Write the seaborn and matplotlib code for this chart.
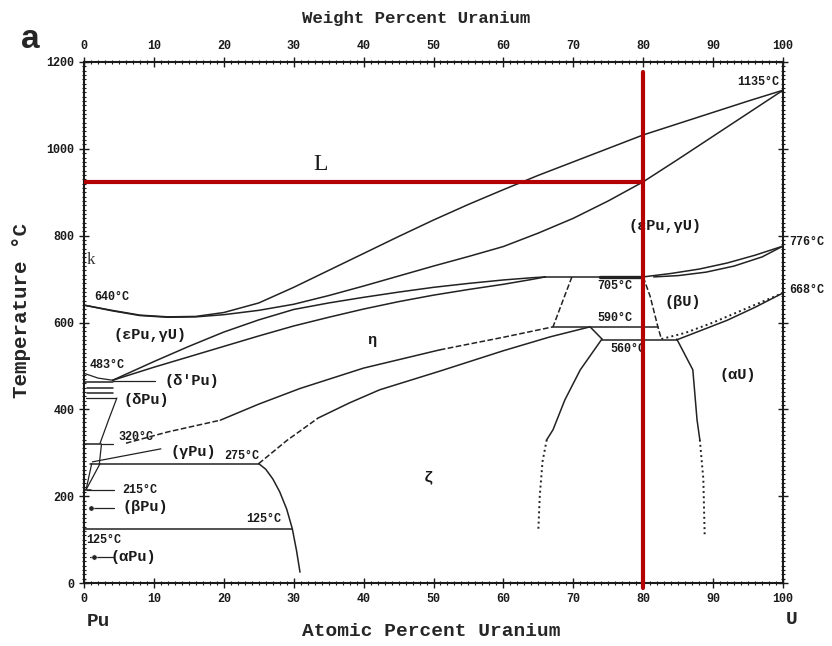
import matplotlib
matplotlib.use("Agg")
import matplotlib.pyplot as plt
import seaborn as sns
import pandas as pd
from matplotlib.ticker import MultipleLocator

# x = atomic percent uranium, t = temperature (°C)
liquidus_x = [0, 4, 8, 12, 16, 20, 25, 30, 35, 40, 45, 50, 55, 60, 65, 70, 75, 80, 85, 90, 95, 100]
liquidus_t = [640, 628, 617, 613, 614, 623, 645, 681, 720, 759, 798, 836, 872, 906, 939, 970, 1001, 1032, 1058, 1084, 1110, 1135]

solidus_x = [0, 4, 8, 12, 16, 20, 25, 30, 35, 40, 45, 50, 55, 60, 65, 70, 75, 80, 85, 90, 95, 100]
solidus_t = [640, 627, 616, 612, 613, 618, 628, 642, 662, 684, 707, 730, 752, 775, 806, 840, 880, 924, 976, 1029, 1082, 1135]

eps_upper_x = [4.1, 10, 15, 20, 25, 30, 35, 40, 45, 50, 55, 60, 64, 66]
eps_upper_t = [467, 510, 545, 578, 606, 630, 645, 658, 670, 681, 690, 698, 703, 705]

eta_upper_x = [4.1, 10, 15, 20, 25, 30, 35, 40, 45, 50, 55, 60, 64, 66]
eta_upper_t = [467, 497, 521, 545, 569, 592, 612, 631, 648, 663, 676, 688, 699, 705]

eps_bu_upper_x = [80, 84, 88, 92, 96, 100]
eps_bu_upper_t = [705, 713, 723, 737, 755, 776]
eps_bu_lower_x = [81.5, 85, 89, 93, 97, 100]
eps_bu_lower_t = [705, 708, 716, 730, 751, 776]

eta_lower_dash_x = [6, 12, 19.5]
eta_lower_dash_t = [322, 348, 375]
eta_lower_x = [19.5, 25, 30.9, 40, 50.9]
eta_lower_t = [375, 412, 448, 495, 537]
eta_lower_end_x = [50.9, 60, 67.1]
eta_lower_end_t = [537, 566, 590]

zeta_upper_dash_x = [25, 29, 33.5]
zeta_upper_dash_t = [275, 328, 380]
zeta_upper_x = [33.5, 38, 42.3, 50.9, 60, 66.7, 72.4, 74.1]
zeta_upper_t = [380, 415, 445, 488, 535, 567, 590, 562]

zeta_right_x = [74.1, 71, 68.8, 67.1, 66.2]
zeta_right_t = [562, 491, 422, 353, 330]
zeta_right_dot_x = [66.2, 65.6, 65.2, 65.0]
zeta_right_dot_t = [330, 280, 200, 122]

alpha_u_x = [84.8, 87.1, 87.7, 88.1]
alpha_u_t = [562, 491, 376, 330]
alpha_u_dot_x = [88.1, 88.6, 88.8]
alpha_u_dot_t = [330, 240, 106]

zeta_left_x = [25, 26, 27, 28, 29, 29.8, 30.4, 30.9]
zeta_left_t = [275, 262, 240, 210, 170, 125, 75, 25]

alpha_solvus_x = [84.8, 88, 92, 96, 100]
alpha_solvus_t = [560, 580, 605, 635, 668]
beta_solvus_x = [82.6, 86, 90, 95, 100]
beta_solvus_t = [562, 576, 600, 634, 668]

dash_left_x = [69.8, 68.5, 67.1]
dash_left_t = [705, 650, 590]
dash_right_x = [80, 81, 82.1, 82.6]
dash_right_t = [705, 660, 590, 562]

# horizontal invariant lines: (x start, x end, temperature)
iso_x0 = [66, 0, 67.1, 74.1, 0.8, 0, 0, 0.4, 0.4, 0]
iso_x1 = [80, 4.1, 82.1, 84.8, 25, 29.8, 2.5, 4.2, 4.2, 1.0]
iso_t = [705, 463, 590, 560, 275, 125, 320, 450, 437, 215]
thick_x = [73.8, 79.5]
thick_t = [705, 705]

# small Pu-rich boundaries
pu_lines = [
    ([0, 2, 4.1], [483, 472, 467]),
    ([4.7, 3.5, 2.3], [426, 375, 322]),
    ([2.5, 2.2], [320, 275]),
    ([0.3, 1.1], [215, 275]),
    ([0.3, 2.3], [215, 275]),
    ([1.2, 11], [279, 309]),
]
# leader lines from labels
leader_x0 = [4.1, 0.3, 2.6, 0.4, 0.8, 0.8]
leader_x1 = [10.2, 4.6, 4.2, 4.3, 4.3, 4.3]
leader_t = [465, 425, 321, 215, 172, 60]
dot_x = [1.0, 1.4]
dot_t = [172, 60]

# guide lines in red
guide_x = 80
guide_t = 924
guide_top = 1177

phase_labels = ["(εPu,γU)", "(εPu,γU)", "(βU)", "(αU)", "(δ'Pu)", "(δPu)", "(γPu)", "(βPu)", "(αPu)", "η", "ζ"]
phase_x = [9.4, 83.1, 85.7, 93.5, 15.4, 8.9, 15.6, 8.7, 7.0, 41.2, 49.2]
phase_t = [571, 822, 647, 479, 465, 422, 302, 175, 60, 560, 244]

temp_labels = ["1135°C", "776°C", "668°C", "640°C", "483°C", "705°C", "590°C", "560°C", "320°C", "275°C", "215°C", "125°C", "125°C"]
temp_x = [96.5, 103.4, 103.4, 3.9, 3.3, 76.0, 76.0, 77.8, 7.5, 22.5, 8.0, 25.7, 2.8]
temp_t = [1154, 786, 675, 659, 503, 683, 611, 538, 336, 293, 214, 147, 100]

x_ticks = list(range(0, 101, 10))
t_ticks = list(range(0, 1201, 200))

line_color = "#222222"
red = "#b30000"

sns.set_style("ticks")
plt.rcParams["font.family"] = ["Liberation Mono", "DejaVu Sans"]

fig = plt.figure(figsize=(8.32, 6.46), dpi=100)
ax = fig.add_axes([84 / 832, 1 - 583 / 646, (783 - 84) / 832, (583 - 62) / 646])


def curve(xs, ts, style="-", lw=1.1):
    df = pd.DataFrame({"x": xs, "t": ts})
    sns.lineplot(data=df, x="x", y="t", ax=ax, sort=False, estimator=None,
                 color=line_color, lw=lw, linestyle=style)


curve(liquidus_x, liquidus_t)
curve(solidus_x, solidus_t)
curve(eps_upper_x, eps_upper_t)
curve(eta_upper_x, eta_upper_t)
curve(eps_bu_upper_x, eps_bu_upper_t)
curve(eps_bu_lower_x, eps_bu_lower_t)
curve(eta_lower_dash_x, eta_lower_dash_t, "--")
curve(eta_lower_x, eta_lower_t)
curve(eta_lower_end_x, eta_lower_end_t, "--")
curve(zeta_upper_dash_x, zeta_upper_dash_t, "--")
curve(zeta_upper_x, zeta_upper_t)
curve(zeta_right_x, zeta_right_t)
curve(zeta_right_dot_x, zeta_right_dot_t, ":", 1.4)
curve(alpha_u_x, alpha_u_t)
curve(alpha_u_dot_x, alpha_u_dot_t, ":", 1.4)
curve(zeta_left_x, zeta_left_t)
curve(alpha_solvus_x, alpha_solvus_t)
curve(beta_solvus_x, beta_solvus_t, ":", 1.4)
curve(dash_left_x, dash_left_t, "--")
curve(dash_right_x, dash_right_t, "--")
curve(thick_x, thick_t, lw=2.4)
for x0, x1, t in zip(iso_x0, iso_x1, iso_t):
    curve([x0, x1], [t, t])
for xs, ts in pu_lines:
    curve(xs, ts, lw=0.9)
for x0, x1, t in zip(leader_x0, leader_x1, leader_t):
    curve([x0, x1], [t, t], lw=0.9)
sns.scatterplot(x=dot_x, y=dot_t, ax=ax, color=line_color, s=14, zorder=4)

# red guide lines
sns.lineplot(x=[0, guide_x], y=[guide_t, guide_t], ax=ax, color=red, lw=3.0, zorder=5)
ax.plot([guide_x, guide_x], [-12, guide_top], color=red, lw=3.0, zorder=5, clip_on=False)

for lab, x, t in zip(phase_labels, phase_x, phase_t):
    ax.text(x, t, lab, ha="center", va="center", fontsize=11, fontweight="bold", color="#1a1a1a")
for lab, x, t in zip(temp_labels, temp_x, temp_t):
    ax.text(x, t, lab, ha="center", va="center", fontsize=8.5, fontweight="bold", color="#1a1a1a")
ax.text(33.8, 963, "L", ha="center", va="center", fontsize=17, family="Liberation Serif", color="#1a1a1a")
ax.text(1.0, 745, "k", ha="center", va="center", fontsize=12, family="Liberation Serif", color="#333333")

ax.set_xlim(0, 100)
ax.set_ylim(0, 1200)
ax.set_xticks(x_ticks)
ax.set_yticks(t_ticks)
ax.xaxis.set_minor_locator(MultipleLocator(1))
ax.yaxis.set_minor_locator(MultipleLocator(10))
ax.tick_params(which="both", direction="inout", top=True, right=True,
               labeltop=True, labelright=False, labelsize=8.5, width=1.0, colors="#1a1a1a")
ax.tick_params(which="major", length=7)
ax.tick_params(which="minor", length=3.5, width=0.8)
for lbl in ax.get_xticklabels() + ax.get_yticklabels():
    lbl.set_fontweight("bold")
for sp in ax.spines.values():
    sp.set_linewidth(1.5)
    sp.set_color("#1a1a1a")
ax.set_xlabel("")
ax.set_ylabel("")

fig.text(431 / 832, 1 - 632 / 646, "Atomic Percent Uranium", ha="center", va="center",
         fontsize=14, fontweight="bold")
fig.text(416 / 832, 1 - 18 / 646, "Weight Percent Uranium", ha="center", va="center",
         fontsize=12.5, fontweight="bold")
fig.text(22 / 832, 1 - 310 / 646, "Temperature °C", ha="center", va="center", rotation=90,
         fontsize=15, fontweight="bold")
fig.text(98 / 832, 1 - 622 / 646, "Pu", ha="center", va="center", fontsize=14, fontweight="bold")
fig.text(792 / 832, 1 - 620 / 646, "U", ha="center", va="center", fontsize=14, fontweight="bold")
fig.text(30 / 832, 1 - 40 / 646, "a", ha="center", va="center", fontsize=24, fontweight="bold",
         family="Liberation Sans")

fig.savefig("out.png", dpi=100)
